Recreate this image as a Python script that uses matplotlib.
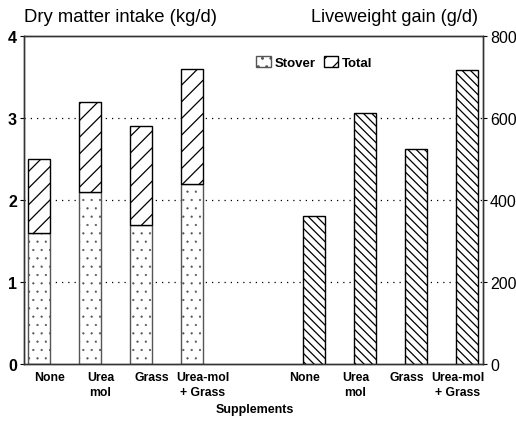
import matplotlib
matplotlib.use("Agg")
import matplotlib.pyplot as plt
from matplotlib.patches import Patch

categories = ["None", "Urea\nmol", "Grass", "Urea-mol\n+ Grass"]
stover_intake = [1.6, 2.1, 1.7, 2.2]
total_intake = [2.5, 3.2, 2.9, 3.6]
liveweight_gain = [360, 612, 524, 718]

plt.rcParams["font.family"] = ["Liberation Sans", "DejaVu Sans"]

# label slots: 0-3 intake, 5-8 gain; bars sit a bit off their slot
left_slots = [0, 1, 2, 3]
right_slots = [5, 6, 7, 8]
left_pos = [s - 0.21 for s in left_slots]
right_pos = [s + 0.19 for s in right_slots]
width = 0.43

fig = plt.figure(figsize=(5.16, 4.27), dpi=100)
ax = fig.add_axes([0.0465, 0.1452, 0.8895, 0.768])
ax2 = ax.twinx()

plt.rcParams["hatch.linewidth"] = 0.35
ax.bar(left_pos, stover_intake, width=width, facecolor="white",
       edgecolor="#555555", hatch="..", linewidth=1.0, zorder=2)
stover_handle = Patch(facecolor="white", edgecolor="#555555", hatch="..", label="Stover")
plt.rcParams["hatch.linewidth"] = 0.9
ax.bar(left_pos, [t - s for t, s in zip(total_intake, stover_intake)],
       bottom=stover_intake, width=width, facecolor="white",
       edgecolor="black", hatch="//", linewidth=1.0, zorder=2)
ax2.bar(right_pos, liveweight_gain, width=width, facecolor="white",
        edgecolor="black", hatch="\\\\\\\\", linewidth=1.0, zorder=2)
total_handle = Patch(facecolor="white", edgecolor="black", hatch="//", label="Total")

ax.set_xlim(-0.5, 8.5)
ax.set_ylim(0, 4)
ax2.set_ylim(0, 800)
ax.set_yticks([0, 1, 2, 3, 4])
ax2.set_yticks([0, 200, 400, 600, 800])
for y in [1, 2, 3]:
    ax.axhline(y, color="black", linestyle=(0, (1, 4)), linewidth=0.9, zorder=1)

ax.set_xticks(left_slots + right_slots)
ax.set_xticklabels(categories + categories, fontsize=8.8, fontweight="bold",
                   multialignment="center", linespacing=1.35)
ax.tick_params(axis="x", length=0, pad=5)
ax.tick_params(axis="y", length=3, labelsize=11.5, pad=2)
for lab in ax.get_yticklabels():
    lab.set_fontweight("bold")
ax2.tick_params(axis="y", length=3, labelsize=11.5, pad=2)
for sp in list(ax.spines.values()) + list(ax2.spines.values()):
    sp.set_linewidth(1.0)
    sp.set_color("#333333")

fig.text(0.0465, 0.96, "Dry matter intake (kg/d)", fontsize=13.3, ha="left", va="center")
fig.text(0.927, 0.96, "Liveweight gain (g/d)", fontsize=13, ha="right", va="center")
fig.text(0.493, 0.04, "Supplements", fontsize=9, fontweight="bold", ha="center", va="center")

ax.legend(handles=[stover_handle, total_handle], loc="center left",
          bbox_to_anchor=(0.48, 0.92), ncol=2, frameon=False,
          handlelength=1.1, handleheight=1.0, handletextpad=0.3,
          columnspacing=0.6, prop={"weight": "bold", "size": 9.5})

fig.savefig("out.png", dpi=100)
